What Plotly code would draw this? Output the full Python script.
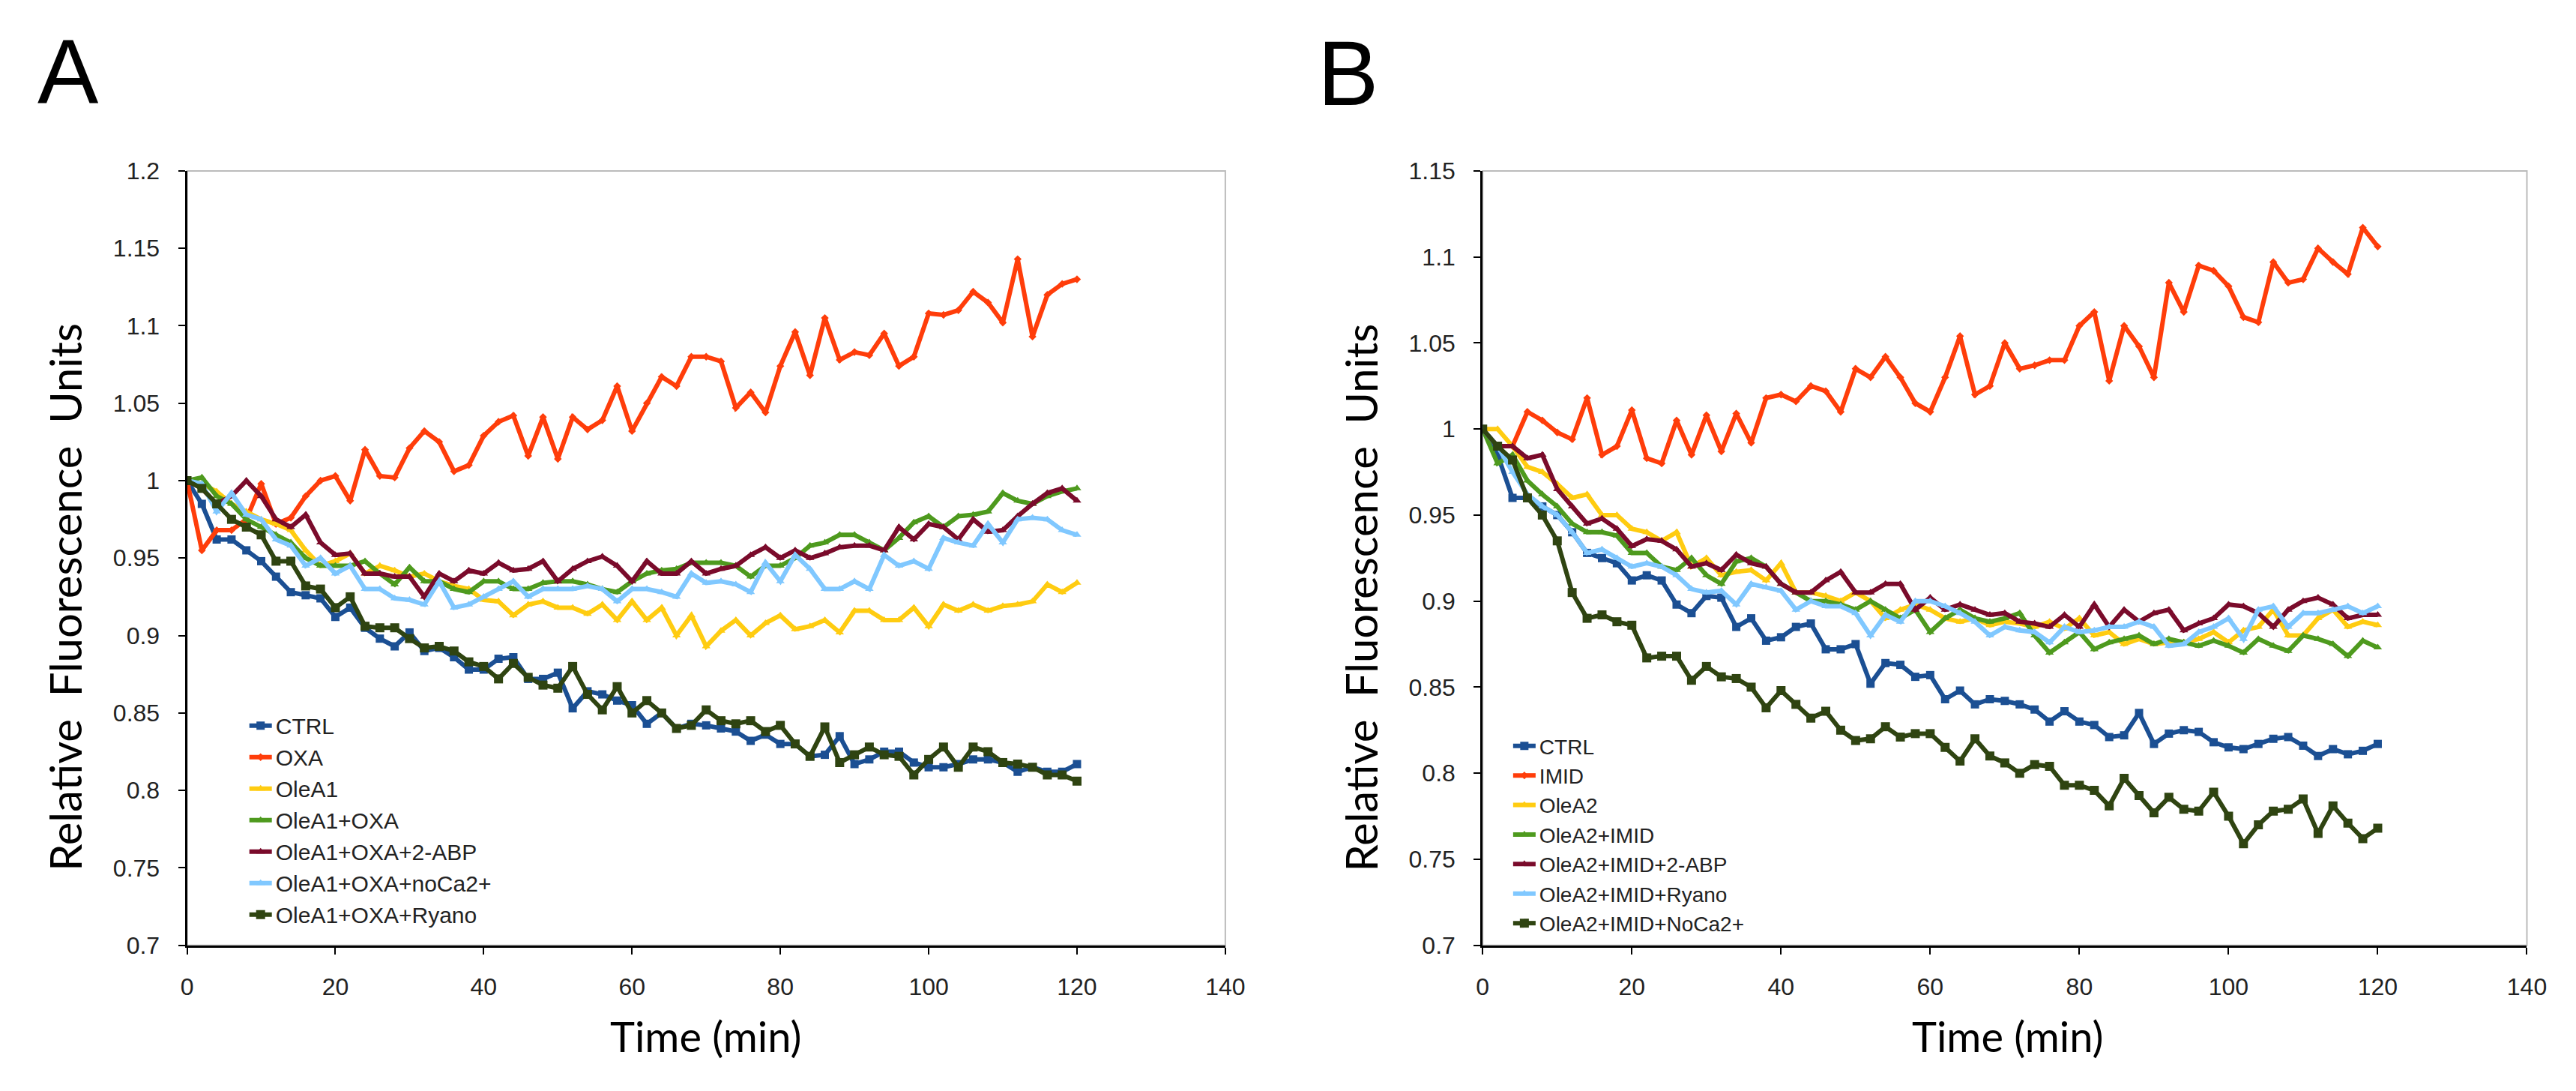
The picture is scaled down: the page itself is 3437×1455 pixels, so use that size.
import plotly.graph_objects as go

# ---------------- data ----------------
time = list(range(0, 121, 2))  # minutes, one reading every 2 min

a_names = ["CTRL", "OXA", "OleA1", "OleA1+OXA", "OleA1+OXA+2-ABP",
           "OleA1+OXA+noCa2+", "OleA1+OXA+Ryano"]
b_names = ["CTRL", "IMID", "OleA2", "OleA2+IMID", "OleA2+IMID+2-ABP",
           "OleA2+IMID+Ryano", "OleA2+IMID+NoCa2+"]

a_ctrl = [1.0, 0.985, 0.962, 0.962, 0.955, 0.948, 0.938, 0.928, 0.926, 0.924,
          0.912, 0.918, 0.905, 0.898, 0.893, 0.902, 0.89, 0.892, 0.886, 0.878,
          0.878, 0.885, 0.886, 0.872, 0.872, 0.876, 0.853, 0.864, 0.862, 0.858,
          0.855, 0.843, 0.85, 0.84, 0.843, 0.842, 0.84, 0.838, 0.832, 0.836,
          0.83, 0.83, 0.822, 0.823, 0.835, 0.817, 0.82, 0.825, 0.825, 0.818,
          0.815, 0.815, 0.817, 0.82, 0.82, 0.818, 0.812, 0.815, 0.812, 0.812,
          0.817]
a_oxa = [1.0, 0.955, 0.968, 0.968, 0.975, 0.998, 0.972, 0.976, 0.99, 1.0,
         1.003, 0.987, 1.02, 1.003, 1.002, 1.021, 1.032, 1.025, 1.006, 1.01,
         1.029, 1.038, 1.042, 1.016, 1.041, 1.014, 1.041, 1.033, 1.039, 1.061,
         1.032, 1.05, 1.067, 1.061, 1.08, 1.08, 1.077, 1.047, 1.057, 1.044,
         1.074, 1.096, 1.068, 1.105, 1.078, 1.083, 1.081, 1.095, 1.074, 1.08,
         1.108, 1.107, 1.11, 1.122, 1.115, 1.102, 1.143, 1.093, 1.12, 1.127,
         1.13]
a_olea1 = [1.0, 0.998, 0.993, 0.985, 0.98, 0.975, 0.972, 0.968, 0.955, 0.945,
           0.948, 0.953, 0.94, 0.945, 0.942, 0.938, 0.94, 0.935, 0.932, 0.93,
           0.923, 0.922, 0.913, 0.92, 0.922, 0.918, 0.918, 0.914, 0.92, 0.91,
           0.922, 0.91, 0.918, 0.9, 0.913, 0.893, 0.903, 0.91, 0.9, 0.908,
           0.913, 0.904, 0.906, 0.91, 0.902, 0.916, 0.916, 0.91, 0.91, 0.918,
           0.906, 0.92, 0.916, 0.92, 0.916, 0.919, 0.92, 0.922, 0.933, 0.928,
           0.934]
a_olea1_oxa = [1.0, 1.002, 0.99, 0.985, 0.975, 0.97, 0.965, 0.96, 0.95, 0.945,
               0.945, 0.945, 0.948, 0.94, 0.933, 0.944, 0.935, 0.935, 0.93, 0.928,
               0.935, 0.935, 0.93, 0.93, 0.934, 0.935, 0.935, 0.933, 0.93, 0.928,
               0.935, 0.94, 0.942, 0.943, 0.947, 0.947, 0.947, 0.945, 0.938, 0.945,
               0.945, 0.95, 0.958, 0.96, 0.965, 0.965, 0.96, 0.955, 0.963, 0.973,
               0.977, 0.97, 0.977, 0.978, 0.98, 0.992, 0.987, 0.985, 0.99, 0.993,
               0.995]
a_abp = [1.0, 0.995, 0.985, 0.99, 1.0, 0.99, 0.975, 0.97, 0.978, 0.96,
         0.952, 0.953, 0.94, 0.94, 0.938, 0.938, 0.925, 0.94, 0.935, 0.942,
         0.94, 0.947, 0.942, 0.943, 0.948, 0.935, 0.943, 0.948, 0.951, 0.945,
         0.935, 0.948, 0.94, 0.94, 0.948, 0.94, 0.943, 0.945, 0.952, 0.957,
         0.95, 0.955, 0.95, 0.953, 0.957, 0.958, 0.958, 0.955, 0.97, 0.962,
         0.972, 0.97, 0.962, 0.975, 0.967, 0.968, 0.977, 0.985, 0.992, 0.995,
         0.987]
a_noca = [1.0, 0.998, 0.98, 0.992, 0.978, 0.975, 0.962, 0.958, 0.945, 0.95,
          0.94, 0.945, 0.93, 0.93, 0.924, 0.923, 0.92, 0.935, 0.918, 0.92,
          0.925, 0.93, 0.935, 0.925, 0.93, 0.93, 0.93, 0.932, 0.93, 0.922,
          0.93, 0.93, 0.928, 0.925, 0.94, 0.934, 0.935, 0.933, 0.928, 0.947,
          0.935, 0.952, 0.943, 0.93, 0.93, 0.935, 0.93, 0.952, 0.945, 0.948,
          0.943, 0.963, 0.96, 0.958, 0.972, 0.96, 0.975, 0.976, 0.975, 0.968,
          0.965]
a_ryano = [1.0, 0.995, 0.985, 0.975, 0.97, 0.965, 0.948, 0.948, 0.932, 0.93,
           0.918, 0.925, 0.906, 0.905, 0.905, 0.898, 0.892, 0.893, 0.89, 0.883,
           0.88, 0.872, 0.882, 0.873, 0.868, 0.866, 0.88, 0.862, 0.852, 0.867,
           0.85, 0.858, 0.85, 0.84, 0.842, 0.852, 0.845, 0.843, 0.845, 0.838,
           0.842, 0.83, 0.822, 0.841, 0.818, 0.823, 0.828, 0.823, 0.822, 0.81,
           0.82, 0.828, 0.815, 0.828, 0.825, 0.818, 0.817, 0.815, 0.81, 0.81,
           0.806]

b_ctrl = [1.0, 0.985, 0.96, 0.96, 0.955, 0.95, 0.94, 0.928, 0.925, 0.922,
          0.912, 0.915, 0.912, 0.898, 0.893, 0.903, 0.902, 0.885, 0.89, 0.877,
          0.879, 0.885, 0.887, 0.872, 0.872, 0.875, 0.852, 0.864, 0.863, 0.856,
          0.857, 0.843, 0.848, 0.84, 0.843, 0.842, 0.84, 0.837, 0.83, 0.836,
          0.83, 0.828, 0.821, 0.822, 0.835, 0.817, 0.823, 0.825, 0.824, 0.818,
          0.815, 0.814, 0.817, 0.82, 0.821, 0.816, 0.81, 0.814, 0.811, 0.813,
          0.817]
b_imid = [1.0, 0.99, 0.99, 1.01, 1.005, 0.998, 0.994, 1.018, 0.985, 0.99,
          1.011, 0.983, 0.98, 1.005, 0.985, 1.008, 0.987, 1.009, 0.992, 1.018,
          1.02, 1.016, 1.025, 1.022, 1.01, 1.035, 1.03, 1.042, 1.03, 1.015,
          1.01, 1.03, 1.054, 1.02, 1.025, 1.05, 1.035, 1.037, 1.04, 1.04,
          1.06, 1.068, 1.028, 1.06, 1.048, 1.03, 1.085, 1.068, 1.095, 1.092,
          1.083, 1.065, 1.062, 1.097, 1.085, 1.087, 1.105, 1.097, 1.09, 1.117,
          1.106]
b_olea2 = [1.0, 1.0, 0.99, 0.978, 0.975, 0.968, 0.96, 0.962, 0.95, 0.95,
           0.942, 0.94, 0.935, 0.94, 0.92, 0.925, 0.915, 0.917, 0.918, 0.912,
           0.922, 0.905, 0.905, 0.903, 0.9, 0.905, 0.9, 0.89, 0.895, 0.898,
           0.895, 0.89, 0.888, 0.89, 0.886, 0.888, 0.887, 0.885, 0.888, 0.884,
           0.89, 0.88, 0.882, 0.875, 0.878, 0.875, 0.876, 0.876, 0.878, 0.882,
           0.876, 0.883, 0.885, 0.895, 0.88, 0.88, 0.89, 0.895, 0.885, 0.888,
           0.886]
b_olea2_imid = [1.0, 0.98, 0.985, 0.97, 0.962, 0.955, 0.945, 0.94, 0.94, 0.938,
                0.928, 0.928, 0.92, 0.918, 0.925, 0.915, 0.91, 0.923, 0.925, 0.92,
                0.91, 0.905, 0.9, 0.9, 0.898, 0.895, 0.9, 0.895, 0.89, 0.895,
                0.882, 0.89, 0.895, 0.89, 0.888, 0.89, 0.893, 0.88, 0.87, 0.876,
                0.882, 0.872, 0.876, 0.878, 0.88, 0.875, 0.878, 0.876, 0.874, 0.877,
                0.874, 0.87, 0.878, 0.874, 0.871, 0.88, 0.878, 0.875, 0.868, 0.877,
                0.873]
b_abp = [1.0, 0.99, 0.99, 0.983, 0.985, 0.965, 0.955, 0.945, 0.948, 0.942,
         0.932, 0.936, 0.935, 0.93, 0.92, 0.922, 0.918, 0.927, 0.922, 0.92,
         0.91, 0.905, 0.905, 0.912, 0.917, 0.905, 0.905, 0.91, 0.91, 0.895,
         0.902, 0.895, 0.898, 0.895, 0.892, 0.893, 0.888, 0.887, 0.885, 0.892,
         0.885, 0.898, 0.885, 0.895, 0.888, 0.893, 0.895, 0.883, 0.887, 0.89,
         0.898, 0.897, 0.893, 0.885, 0.895, 0.9, 0.902, 0.898, 0.89, 0.892,
         0.892]
b_ryano = [1.0, 0.99, 0.975, 0.962, 0.955, 0.95, 0.94, 0.928, 0.93, 0.925,
           0.92, 0.922, 0.92, 0.915, 0.907, 0.905, 0.906, 0.898, 0.91, 0.908,
           0.906, 0.895, 0.9, 0.897, 0.897, 0.893, 0.88, 0.892, 0.888, 0.9,
           0.9, 0.897, 0.893, 0.888, 0.88, 0.885, 0.883, 0.882, 0.876, 0.885,
           0.882, 0.883, 0.885, 0.885, 0.888, 0.885, 0.874, 0.875, 0.882, 0.885,
           0.89, 0.878, 0.895, 0.897, 0.885, 0.893, 0.893, 0.895, 0.897, 0.893,
           0.897]
b_noca = [1.0, 0.99, 0.982, 0.96, 0.95, 0.935, 0.905, 0.89, 0.892, 0.888,
          0.886, 0.867, 0.868, 0.868, 0.854, 0.862, 0.856, 0.855, 0.85, 0.838,
          0.848, 0.84, 0.832, 0.836, 0.825, 0.819, 0.82, 0.827, 0.821, 0.823,
          0.823, 0.815, 0.807, 0.82, 0.81, 0.806, 0.8, 0.805, 0.804, 0.793,
          0.793, 0.79, 0.781, 0.797, 0.787, 0.777, 0.786, 0.779, 0.778, 0.789,
          0.775, 0.759, 0.77, 0.778, 0.779, 0.785, 0.765, 0.781, 0.771, 0.762,
          0.768]

a_series = [a_ctrl, a_oxa, a_olea1, a_olea1_oxa, a_abp, a_noca, a_ryano]
b_series = [b_ctrl, b_imid, b_olea2, b_olea2_imid, b_abp, b_ryano, b_noca]

x_ticks = [0, 20, 40, 60, 80, 100, 120, 140]
a_yticks = [0.7, 0.75, 0.8, 0.85, 0.9, 0.95, 1.0, 1.05, 1.1, 1.15, 1.2]
a_ylabels = ["0.7", "0.75", "0.8", "0.85", "0.9", "0.95", "1", "1.05", "1.1", "1.15", "1.2"]
b_yticks = [0.7, 0.75, 0.8, 0.85, 0.9, 0.95, 1.0, 1.05, 1.1, 1.15]
b_ylabels = ["0.7", "0.75", "0.8", "0.85", "0.9", "0.95", "1", "1.05", "1.1", "1.15"]

# ---------------- style ----------------
colors = ["#1B4F93", "#FF3D0A", "#FFCC11", "#4E9A1E", "#7A0B2B", "#80C8FF", "#2F4411"]
symbols = ["square", "diamond", "triangle-up", "triangle-up", "triangle-up",
           "triangle-up", "square"]
msizes = [11, 8, 10, 10, 10, 10, 12]

W, H = 3437, 1455
LEG_FONT = "Liberation Sans, Arial, sans-serif"
TICK_FONT = dict(family=LEG_FONT, size=32, color="#222222")
TITLE_FONT = "Lato, Open Sans, sans-serif"

fig = go.Figure()
for i, (name, ys) in enumerate(zip(a_names, a_series)):
    fig.add_trace(go.Scatter(x=time, y=ys, name=name, mode="lines+markers",
                             line=dict(color=colors[i], width=6),
                             marker=dict(symbol=symbols[i], size=msizes[i], color=colors[i]),
                             xaxis="x", yaxis="y", legend="legend"))
for i, (name, ys) in enumerate(zip(b_names, b_series)):
    fig.add_trace(go.Scatter(x=time, y=ys, name=name, mode="lines+markers",
                             line=dict(color=colors[i], width=6),
                             marker=dict(symbol=symbols[i], size=msizes[i], color=colors[i]),
                             xaxis="x2", yaxis="y2", legend="legend2"))

axis_common = dict(showline=True, linecolor="black", linewidth=3, ticks="outside",
                   ticklen=9, tickwidth=2, tickcolor="black", showgrid=False,
                   zeroline=False, tickfont=TICK_FONT)

fig.update_layout(
    width=W, height=H, margin=dict(l=0, r=0, t=0, b=0),
    paper_bgcolor="white", plot_bgcolor="white",
    xaxis=dict(domain=[235 / W, 1635 / W], range=[0, 140], tickvals=x_ticks,
               anchor="y", ticklabelstandoff=16, **axis_common),
    yaxis=dict(domain=[1 - 1266 / H, 1 - 207 / H], range=[0.7, 1.2], tickvals=a_yticks,
               ticktext=a_ylabels, anchor="x", ticklabelstandoff=18, **axis_common),
    xaxis2=dict(domain=[1982 / W, 3390 / W], range=[0, 140], tickvals=x_ticks,
                anchor="y2", ticklabelstandoff=16, **axis_common),
    yaxis2=dict(domain=[1 - 1266 / H, 1 - 207 / H], range=[0.7, 1.15], tickvals=b_yticks,
                ticktext=b_ylabels, anchor="x2", ticklabelstandoff=18, **axis_common),
    legend=dict(x=314 / W, y=1 - 939 / H, xanchor="left", yanchor="top",
                bgcolor="rgba(0,0,0,0)", font=dict(family=LEG_FONT, size=30, color="#222222"),
                tracegroupgap=0, itemwidth=30, traceorder="normal"),
    legend2=dict(x=2018 / W, y=1 - 968 / H, xanchor="left", yanchor="top",
                 bgcolor="rgba(0,0,0,0)", font=dict(family=LEG_FONT, size=28, color="#222222"),
                 tracegroupgap=0, itemwidth=30, traceorder="normal"),
    showlegend=True,
)

# light grey frame on the top and right of each plot area
for xr, yr in (("x domain", "y domain"), ("x2 domain", "y2 domain")):
    fig.add_shape(type="rect", xref=xr, yref=yr, x0=0, x1=1, y0=0, y1=1,
                  line=dict(color="#BBBBBB", width=2), layer="below")

ann = [
    dict(text="A", x=74.5 / W, y=1 - 72 / H, font=dict(family=LEG_FONT, size=122, color="black")),
    dict(text="B", x=1800 / W, y=1 - 74 / H, font=dict(family=LEG_FONT, size=122, color="black")),
    dict(text="Relative  Fluorescence  Units", x=70 / W, y=1 - 790 / H, textangle=-90,
         font=dict(family=TITLE_FONT, size=58, color="black")),
    dict(text="Relative  Fluorescence  Units", x=1817 / W, y=1 - 790 / H, textangle=-90,
         font=dict(family=TITLE_FONT, size=58, color="black")),
    dict(text="Time (min)", x=935 / W, y=1 - 1390 / H,
         font=dict(family=TITLE_FONT, size=56, color="black")),
    dict(text="Time (min)", x=2690 / W, y=1 - 1390 / H,
         font=dict(family=TITLE_FONT, size=56, color="black")),
]
for a in ann:
    fig.add_annotation(xref="paper", yref="paper", showarrow=False,
                       xanchor="center", yanchor="middle", **a)

fig.write_html("out.html")
